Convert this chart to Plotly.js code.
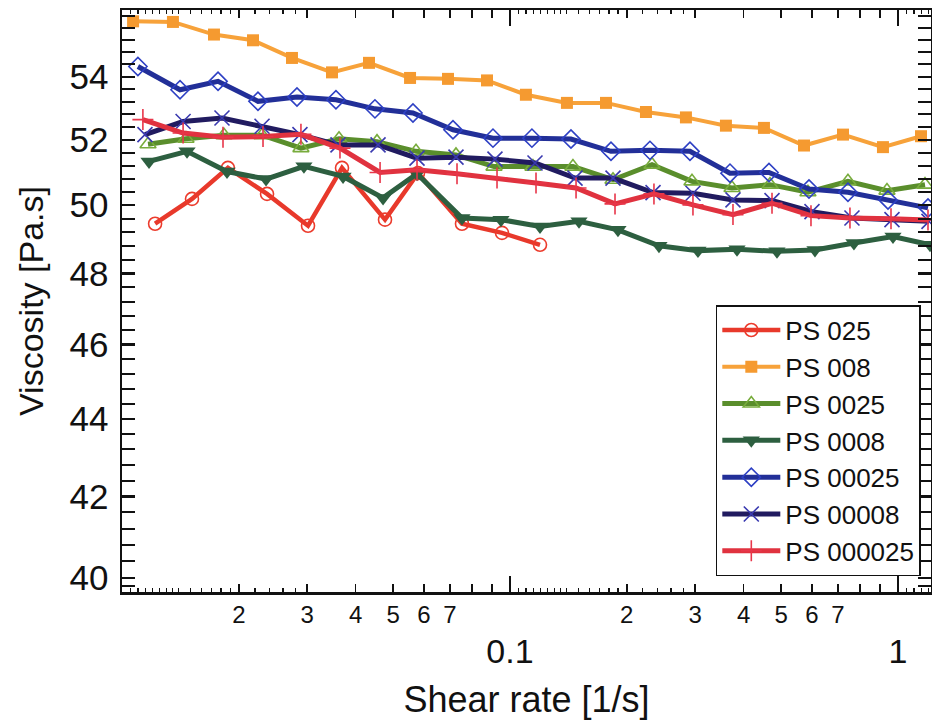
<!DOCTYPE html>
<html>
<head>
<meta charset="utf-8">
<script src="https://cdn.plot.ly/plotly-3.0.1.min.js"></script>
<style>html,body{margin:0;padding:0;background:#fff;}#chart{width:932px;height:723px;}</style>
</head>
<body>
<div id="chart"></div>
<script>
// ---- data (shear rate [1/s], viscosity [Pa.s]) ----
const seriesNames = ["PS 025", "PS 008", "PS 0025", "PS 0008", "PS 00025", "PS 00008", "PS 000025"];

const x_ps025 = [0.01217, 0.01515, 0.01875, 0.02365, 0.03016, 0.03690, 0.04763, 0.05793, 0.07521, 0.09537, 0.1195];
const y_ps025 = [49.45, 50.19, 51.13, 50.34, 49.39, 51.13, 49.57, 50.97, 49.45, 49.18, 48.83];

const x_ps008 = [0.01068, 0.01353, 0.01726, 0.02176, 0.02742, 0.03477, 0.04331, 0.05526, 0.06922, 0.08725, 0.1099, 0.1402, 0.1768, 0.2241, 0.2841, 0.3602, 0.4514, 0.5725, 0.7215, 0.9147, 1.1464];
const y_ps008 = [55.82, 55.80, 55.38, 55.19, 54.61, 54.14, 54.45, 53.96, 53.93, 53.88, 53.42, 53.16, 53.16, 52.87, 52.70, 52.44, 52.37, 51.82, 52.16, 51.77, 52.11];

const x_ps0025 = [0.01167, 0.01462, 0.01832, 0.02296, 0.02892, 0.03625, 0.04542, 0.05725, 0.07258, 0.09095, 0.1146, 0.1453, 0.1843, 0.2323, 0.2945, 0.3734, 0.4679, 0.5861, 0.7431, 0.9368, 1.174];
const y_ps0025 = [51.86, 52.03, 52.14, 52.14, 51.74, 52.03, 51.94, 51.64, 51.53, 51.17, 51.17, 51.17, 50.77, 51.23, 50.72, 50.52, 50.62, 50.39, 50.72, 50.44, 50.62];

const x_ps0008 = [0.01174, 0.01471, 0.01865, 0.02351, 0.02944, 0.03713, 0.04708, 0.05759, 0.07521, 0.0948, 0.1195, 0.1506, 0.1898, 0.2421, 0.3051, 0.3847, 0.4877, 0.611, 0.7701, 0.9708, 1.2094];
const y_ps0008 = [51.33, 51.64, 51.02, 50.79, 51.18, 50.87, 50.22, 50.95, 49.62, 49.57, 49.37, 49.52, 49.27, 48.80, 48.66, 48.70, 48.64, 48.68, 48.88, 49.07, 48.83];

const x_ps00025 = [0.01099, 0.01411, 0.01768, 0.02241, 0.02825, 0.0356, 0.04487, 0.05623, 0.0713, 0.0904, 0.1139, 0.1436, 0.1821, 0.2295, 0.291, 0.369, 0.4651, 0.5897, 0.7431, 0.9424, 1.195];
const y_ps00025 = [54.33, 53.58, 53.85, 53.21, 53.35, 53.26, 52.97, 52.84, 52.31, 52.05, 52.05, 52.02, 51.64, 51.67, 51.64, 50.97, 50.99, 50.49, 50.39, 50.16, 49.92];

const x_ps00008 = [0.01146, 0.01437, 0.0181, 0.02296, 0.02875, 0.03603, 0.0457, 0.05759, 0.07258, 0.09147, 0.116, 0.1471, 0.1843, 0.2337, 0.2962, 0.3756, 0.4735, 0.6003, 0.761, 0.965, 1.2021];
const y_ps00008 = [52.16, 52.57, 52.68, 52.42, 52.16, 51.84, 51.84, 51.43, 51.46, 51.40, 51.28, 50.82, 50.82, 50.38, 50.36, 50.16, 50.14, 49.81, 49.62, 49.57, 49.52];

const x_ps000025 = [0.01132, 0.01437, 0.01821, 0.02309, 0.02892, 0.03646, 0.04625, 0.05759, 0.07302, 0.09259, 0.1167, 0.148, 0.1865, 0.235, 0.2962, 0.3756, 0.4735, 0.5967, 0.752, 0.9594, 1.195];
const y_ps000025 = [52.63, 52.21, 52.08, 52.10, 52.17, 51.74, 50.99, 51.07, 50.95, 50.82, 50.67, 50.52, 50.04, 50.34, 50.01, 49.72, 50.06, 49.69, 49.62, 49.60, 49.56];

// ---- tick labels ----
const xTickVals = [0.02, 0.03, 0.04, 0.05, 0.06, 0.07, 0.08, 0.09, 0.2, 0.3, 0.4, 0.5, 0.6, 0.7, 0.8, 0.9];
const xTickText = ["2", "3", "4", "5", "6", "7", "", "", "2", "3", "4", "5", "6", "7", "", ""];
const xMajorVals = [0.1, 1];
const xMajorText = ["0.1", "1"];
const xMinorVals = [0.0105, 0.011, 0.0115, 0.012, 0.0125, 0.013, 0.0135, 0.014, 0.015, 0.016, 0.017, 0.018, 0.019,
                    0.022, 0.024, 0.026, 0.028,
                    0.105, 0.11, 0.115, 0.12, 0.125, 0.13, 0.135, 0.14, 0.15, 0.16, 0.17, 0.18, 0.19,
                    0.22, 0.24, 0.26, 0.28, 1.05, 1.1, 1.15, 1.2];
const yTickVals = [40, 42, 44, 46, 48, 50, 52, 54];
const yTickText = ["40", "42", "44", "46", "48", "50", "52", "54"];
const yMinorVals = [39.8, 40.4, 40.8, 41.2, 41.6, 42.4, 42.8, 43.2, 43.6, 44.4, 44.8, 45.2, 45.6,
                    46.4, 46.8, 47.2, 47.6, 48.4, 48.8, 49.2, 49.6, 50.4, 50.8, 51.2, 51.6,
                    52.4, 52.8, 53.2, 53.6, 54.4, 54.8, 55.2, 55.6, 56.0];

const FONT = "Liberation Sans, Arial, sans-serif";

function tr(name, xs, ys, lineColor, lineWidth, symbol, mColor, mSize, mLineW) {
  return {
    type: "scatter", mode: "lines+markers", name: name, x: xs, y: ys,
    legendgroup: name,
    line: {color: lineColor, width: lineWidth},
    marker: {symbol: symbol, size: mSize, color: mColor,
             line: {color: mColor, width: mLineW}}
  };
}

const data = [
  tr(seriesNames[0], x_ps025, y_ps025, "#e8392b", 4.5, "circle-open", "#ec3b2c", 13, 1.6),
  tr(seriesNames[1], x_ps008, y_ps008, "#f7a23a", 4, "square", "#f59a30", 12, 0),
  tr(seriesNames[2], x_ps0025, y_ps0025, "#5a8e2c", 5, "triangle-up-open", "#78ac3c", 14, 1.6),
  tr(seriesNames[3], x_ps0008, y_ps0008, "#2d5f40", 5, "triangle-down", "#2d5f40", 15, 0),
  tr(seriesNames[4], x_ps00025, y_ps00025, "#222f98", 5, "diamond-open", "#2e40c4", 14, 1.6),
  tr(seriesNames[5], x_ps00008, y_ps00008, "#211b60", 5, "x-thin-open", "#3a3ab0", 15, 1.6),
  tr(seriesNames[6], x_ps000025, y_ps000025, "#e0323f", 5, "cross-thin-open", "#e8364a", 15, 1.6),
  {type: "scatter", x: [], y: [], xaxis: "x2", showlegend: false, hoverinfo: "skip"}
];

const xr = [-2.0, 0.0851];
const layout = {
  width: 932, height: 723,
  margin: {l: 122, r: 1, t: 10, b: 131},
  paper_bgcolor: "#fff", plot_bgcolor: "#fff",
  font: {family: FONT, color: "#111"},
  showlegend: true,
  xaxis: {
    type: "log", range: xr, showgrid: false, zeroline: false,
    showline: true, linecolor: "#111", linewidth: 2.5, mirror: "allticks",
    ticks: "inside", ticklen: 8, tickwidth: 1.8, tickcolor: "#111",
    tickmode: "array", tickvals: xTickVals, ticktext: xTickText,
    tickfont: {family: FONT, size: 24, color: "#111"},
    ticklabelstandoff: 0,
    minor: {tickmode: "array", tickvals: xMinorVals, ticks: "inside", ticklen: 4, tickwidth: 1.3, tickcolor: "#111"},
    title: {text: "Shear rate [1/s]", font: {family: FONT, size: 36, color: "#111"}, standoff: 60},
    automargin: true
  },
  xaxis2: {
    type: "log", range: xr, overlaying: "x", anchor: "y", side: "bottom",
    showgrid: false, zeroline: false, showline: false, mirror: "ticks",
    ticks: "inside", ticklen: 16, tickwidth: 2, tickcolor: "#111",
    tickmode: "array", tickvals: xMajorVals, ticktext: xMajorText,
    tickfont: {family: FONT, size: 34, color: "#111"},
    ticklabelstandoff: 36, automargin: false
  },
  yaxis: {
    type: "log", range: [Math.log10(39.665), Math.log10(56.2)],
    showgrid: false, zeroline: false,
    showline: true, linecolor: "#111", linewidth: 2.5, mirror: "allticks",
    ticks: "inside", ticklen: 13, tickwidth: 2.2, tickcolor: "#111",
    tickmode: "array", tickvals: yTickVals, ticktext: yTickText,
    tickfont: {family: FONT, size: 35, color: "#111"},
    ticklabelstandoff: 4,
    minor: {tickmode: "array", tickvals: yMinorVals, ticks: "inside", ticklen: 7, tickwidth: 2, tickcolor: "#111"},
    title: {text: "Viscosity [Pa.s]", font: {family: FONT, size: 34, color: "#111"}},
    automargin: false
  },
  legend: {
    x: 0.734, xanchor: "left", y: 0.493, yanchor: "top",
    bgcolor: "#fff", bordercolor: "#111", borderwidth: 1.5,
    font: {family: FONT, size: 26, color: "#111"},
    traceorder: "grouped", tracegroupgap: 0,
    itemwidth: 58
  }
};

Plotly.newPlot("chart", data, layout, {displayModeBar: false, staticPlot: true});
</script>
</body>
</html>
